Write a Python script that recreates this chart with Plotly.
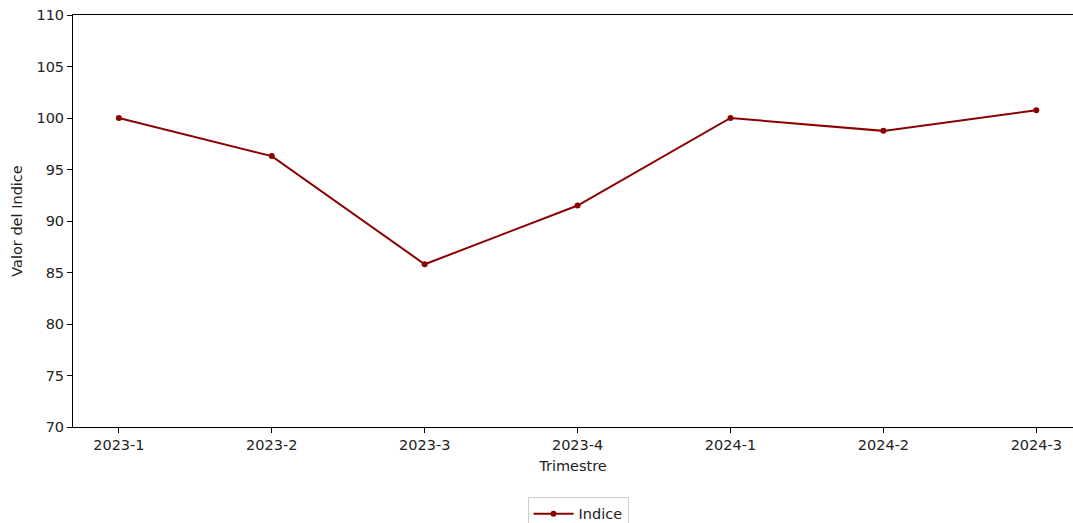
import plotly.graph_objects as go

# Quarterly index values
trimestres = ['2023-1', '2023-2', '2023-3', '2023-4', '2024-1', '2024-2', '2024-3']
indice = [100.0, 96.3, 85.8, 91.5, 100.0, 98.75, 100.75]

FONT = 'DejaVu Sans'
DARK_RED = '#8b0000'

fig = go.Figure()
fig.add_trace(go.Scatter(x=list(range(len(trimestres))), y=indice, name='Indice',
                         mode='lines+markers',
                         line=dict(color=DARK_RED, width=2),
                         marker=dict(color=DARK_RED, size=6)))

fig.update_layout(
    width=1073, height=523,
    plot_bgcolor='white', paper_bgcolor='white',
    margin=dict(l=73, r=0, t=15, b=96, autoexpand=False),
    font=dict(family=FONT, size=14.5, color='#222222'),
    showlegend=True,
    legend=dict(orientation='h', x=0.505, xanchor='center',
                yref='container', y=0.05, yanchor='top',
                bordercolor='#cccccc', borderwidth=1, itemwidth=40,
                font=dict(size=14.5, color='#222222')),
)

fig.update_xaxes(
    range=[-0.3, 6.24], automargin=False,
    tickmode='array', tickvals=list(range(len(trimestres))), ticktext=trimestres,
    showgrid=False, zeroline=False,
    showline=True, linecolor='black', linewidth=1, mirror=True,
    ticks='outside', ticklen=5, tickcolor='black',
    title=dict(text='Trimestre', standoff=8, font=dict(size=14.5)),
)
fig.update_yaxes(
    range=[70, 110], automargin=False,
    tickvals=[70, 75, 80, 85, 90, 95, 100, 105, 110],
    showgrid=False, zeroline=False,
    showline=True, linecolor='black', linewidth=1,
    ticks='outside', ticklen=5, tickcolor='black',
    title=dict(text='Valor del Indice', standoff=10, font=dict(size=14.5)),
)

# drop the browser's default body margin so the figure sits at the window corner
fig.write_html('out.html', config={'displayModeBar': False},
               post_script="document.body.style.margin='0';")
